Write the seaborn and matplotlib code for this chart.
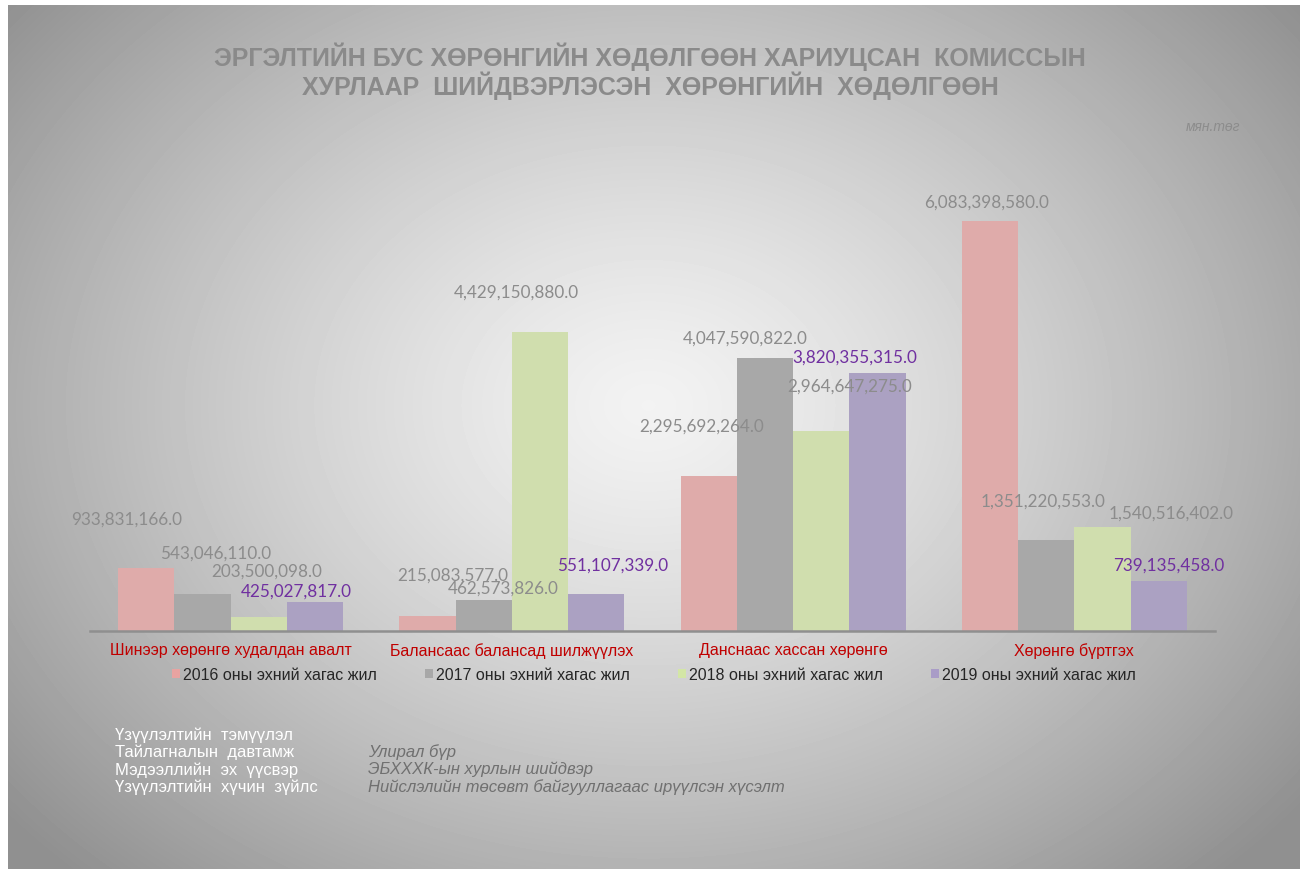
import numpy as np
import pandas as pd
import matplotlib
matplotlib.use('Agg')
import matplotlib.pyplot as plt
from matplotlib.patches import Patch
import seaborn as sns

# data (мян.төг)
categories = ['Шинээр хөрөнгө худалдан авалт', 'Балансаас балансад шилжүүлэх',
              'Данснаас хассан хөрөнгө', 'Хөрөнгө бүртгэх']
years = ['2016 оны эхний хагас жил', '2017 оны эхний хагас жил',
         '2018 оны эхний хагас жил', '2019 оны эхний хагас жил']
v2016 = [933831166.0, 215083577.0, 2295692264.0, 6083398580.0]
v2017 = [543046110.0, 462573826.0, 4047590822.0, 1351220553.0]
v2018 = [203500098.0, 4429150880.0, 2964647275.0, 1540516402.0]
v2019 = [425027817.0, 551107339.0, 3820355315.0, 739135458.0]

info_keys = ['Үзүүлэлтийн  тэмүүлэл', 'Тайлагналын  давтамж',
             'Мэдээллийн  эх  үүсвэр', 'Үзүүлэлтийн  хүчин  зүйлс']
info_vals = ['Улирал бүр', 'ЭБХХХК-ын хурлын шийдвэр',
             'Нийслэлийн төсөвт байгууллагаас ирүүлсэн хүсэлт']

# label offsets in pixels (dx, dy above bar top), same order as the values
label_dx = [[-20, 25, -7, -3], [13, 20, -20, -3], [8, -24, 28, 69], [-19, 16, -23, 10]]
label_dy = [[49, 42, 51, 19], [42, 12, 20, 39], [47, 41, 45, 15], [12, 29, 17, 17]]

colors = ['#E8A3A1', '#A8A8A8', '#D3E6A6', '#A99CC7']
label_colors = ['#8C8C8C', '#8C8C8C', '#8C8C8C', '#7030A0']

df = pd.DataFrame({
    'category': categories * 4,
    'year': [y for y in years for _ in categories],
    'value': v2016 + v2017 + v2018 + v2019,
})

sns.set_theme(style='white')
plt.rcParams['font.family'] = ['Liberation Sans', 'DejaVu Sans']

fig = plt.figure(figsize=(13, 8.7), dpi=100)
fig.patch.set_facecolor('white')

# radial grey background
bg = fig.add_axes([8 / 1300, 0, 1 - 8 / 1300, 1 - 6 / 870], zorder=-10)
yy, xx = np.mgrid[0:864, 0:1292]
r = np.sqrt(((xx - 640) / 720.0) ** 2 + ((yy - 400) / 560.0) ** 2)
shade = 0.95 - 0.32 * np.clip(r, 0, 1.15) ** 1.3
bg.imshow(shade, cmap='gray', vmin=0, vmax=1, aspect='auto', interpolation='bilinear')
bg.axis('off')

ax = fig.add_axes([90 / 1300, 1 - 632 / 870, 1125 / 1300, 472 / 870])
ax.patch.set_alpha(0)

sns.barplot(data=df, x='category', y='value', hue='year', palette=colors,
            width=0.8, gap=0, ax=ax, legend=False, edgecolor='none')

ax.set_ylim(0, 7e9)
ax.set_xlim(-0.5, 3.5)
ax.set_xlabel('')
ax.set_ylabel('')
ax.set_yticks([])
for s in ['top', 'right', 'left']:
    ax.spines[s].set_visible(False)
ax.spines['bottom'].set_color('#8F8F8F')
ax.spines['bottom'].set_linewidth(1.8)
ax.tick_params(axis='x', length=0, pad=8)
for t in ax.get_xticklabels():
    t.set_color('#C00000')
    t.set_fontsize(11.5)

# data labels
for i, cont in enumerate(ax.containers):
    for j, bar in enumerate(cont):
        h = bar.get_height()
        ax.annotate(f'{h:,.1f}', (bar.get_x() + bar.get_width() / 2, h),
                    xytext=(label_dx[i][j] * 0.72, label_dy[i][j] * 0.72),
                    textcoords='offset points', ha='center', va='center',
                    fontsize=12.3, color=label_colors[i], family=['Lato', 'DejaVu Sans'])

# legend
handles = [Patch(facecolor=c, edgecolor='none') for c in colors]
fig.legend(handles, years, loc='center', bbox_to_anchor=(0.503, 1 - 676 / 870), ncol=4,
           frameon=False, handlelength=0.5, handleheight=0.5, handletextpad=0.2,
           columnspacing=3.0, prop={'size': 11.5}, labelcolor='#262626')

# title
fig.text(0.5, 1 - 57 / 870, 'ЭРГЭЛТИЙН БУС ХӨРӨНГИЙН ХӨДӨЛГӨӨН ХАРИУЦСАН  КОМИССЫН',
         ha='center', va='center', fontsize=18, fontweight='bold', color='#8A8A8A')
fig.text(0.5, 1 - 86 / 870, 'ХУРЛААР  ШИЙДВЭРЛЭСЭН  ХӨРӨНГИЙН  ХӨДӨЛГӨӨН',
         ha='center', va='center', fontsize=18, fontweight='bold', color='#8A8A8A')

fig.text(1240 / 1300, 1 - 127 / 870, 'мян.төг', ha='right', va='center', fontsize=10,
         style='italic', color='#8C8C8C')

# info block
for k, key in enumerate(info_keys):
    fig.text(115 / 1300, 1 - (735 + 17.5 * k) / 870, key, ha='left', va='center',
             fontsize=12, color='white')
for k, val in enumerate(info_vals):
    fig.text(368 / 1300, 1 - (752 + 17.5 * k) / 870, val, ha='left', va='center',
             fontsize=12, style='italic', color='#707070')

fig.savefig('out.png', dpi=100)
